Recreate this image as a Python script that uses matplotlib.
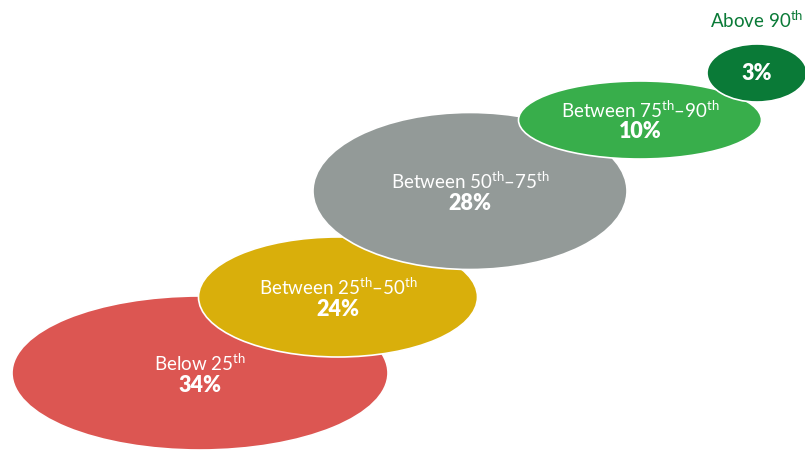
import matplotlib
matplotlib.use('Agg')
from matplotlib import pyplot as plt
from matplotlib.patches import Ellipse

plt.rcParams['font.family'] = ['Lato', 'DejaVu Sans']
plt.rcParams['mathtext.fontset'] = 'custom'
plt.rcParams['mathtext.rm'] = 'Lato'
plt.rcParams['mathtext.it'] = 'Lato'

# percentile bands and their share
labels = ['Below 25$^{\\mathrm{th}}$',
          'Between 25$^{\\mathrm{th}}$\u201350$^{\\mathrm{th}}$',
          'Between 50$^{\\mathrm{th}}$\u201375$^{\\mathrm{th}}$',
          'Between 75$^{\\mathrm{th}}$\u201390$^{\\mathrm{th}}$',
          'Above 90$^{\\mathrm{th}}$']
shares = [34, 24, 28, 10, 3]
colors = ['#dc5652', '#d9af0b', '#939a98', '#38ae4b', '#0a7a37']

# layout of the bubbles (pixel space): centre x, centre y, width, height
cx = [200, 338, 470, 640, 757]
cy = [373, 297, 191, 120, 73]
ww = [376, 279, 314, 243, 100]
hh = [154, 120, 157, 78, 58]

fig = plt.figure(figsize=(8.05, 4.51), dpi=100)
ax = fig.add_axes([0, 0, 1, 1])
ax.set_xlim(0, 805)
ax.set_ylim(451, 0)
ax.set_axis_off()

for i in range(len(shares)):
    ax.add_patch(Ellipse((cx[i], cy[i]), ww[i], hh[i], fc=colors[i],
                         ec='white', lw=1.2, zorder=i + 1))
    pct = '%d%%' % shares[i]
    if i < len(shares) - 1:
        ax.text(cx[i], cy[i] - 10, labels[i], color='white', fontsize=13.5,
                ha='center', va='center', zorder=10)
        ax.text(cx[i], cy[i] + 12, pct, color='white', fontsize=15.5,
                fontweight='heavy', ha='center', va='center', zorder=10)
    else:
        ax.text(cx[i], cy[i], pct, color='white', fontsize=15.5,
                fontweight='heavy', ha='center', va='center', zorder=10)
        ax.text(cx[i], 20, labels[i], color=colors[i], fontsize=13.5,
                ha='center', va='center', zorder=10)

fig.savefig('out.png', dpi=100)
